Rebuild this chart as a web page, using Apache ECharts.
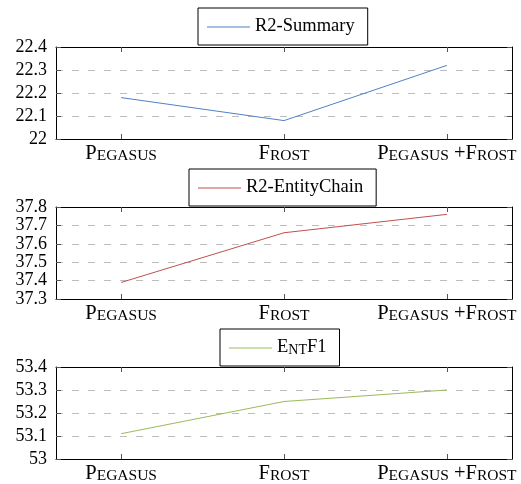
<!DOCTYPE html>
<html>
<head>
<meta charset="utf-8">
<script src="https://cdn.jsdelivr.net/npm/echarts@6/dist/echarts.min.js"></script>
<style>html,body{margin:0;padding:0;background:#fff;}#c{width:521px;height:484px;}</style>
</head>
<body>
<div id="c"></div>
<script>
const categories = ['Pegasus', 'Frost', 'Pegasus +Frost'];
const seriesNames = ['R2-Summary', 'R2-EntityChain', 'EntF1'];
const r2Summary = [22.18, 22.08, 22.32];
const r2EntityChain = [37.39, 37.66, 37.76];
const entF1 = [53.11, 53.25, 53.30];
const yTicks1 = [22.0, 22.1, 22.2, 22.3, 22.4];
const yTicks2 = [37.3, 37.4, 37.5, 37.6, 37.7, 37.8];
const yTicks3 = [53.0, 53.1, 53.2, 53.3, 53.4];
const colors = ['#4f81c7', '#c0504d', '#9bbb59'];

const FONT = 'Liberation Serif';
const allData = [r2Summary, r2EntityChain, entF1];
const allTicks = [yTicks1, yTicks2, yTicks3];

function smallCaps(str) {
  let out = '';
  let cur = '', curType = null;
  for (const ch of str) {
    const t = (ch >= 'a' && ch <= 'z') ? 's' : 'b';
    if (t !== curType && cur) { out += '{' + curType + '|' + cur + '}'; cur = ''; }
    curType = t;
    cur += t === 's' ? ch.toUpperCase() : ch;
  }
  if (cur) out += '{' + curType + '|' + cur + '}';
  return out;
}

const richLabel = {
  b: { fontFamily: FONT, fontSize: 20.5, lineHeight: 20, verticalAlign: 'bottom', color: '#000' },
  s: { fontFamily: FONT, fontSize: 15.5, lineHeight: 17, verticalAlign: 'bottom', color: '#000' }
};
const richLegend = {
  b: { fontFamily: FONT, fontSize: 18.5, lineHeight: 18, verticalAlign: 'bottom', color: '#000' },
  s: { fontFamily: FONT, fontSize: 14, lineHeight: 15, verticalAlign: 'bottom', color: '#000' }
};

const W = 521;
const gridLeft = 56, gridRight = 9;
const xMin = -0.4, xMax = 2.4;
const gridTops = [47, 207, 367];
const gridHeight = 92;
const legendPos = [[198, 8], [189, 169], [220, 329]];
const grids = [], xAxes = [], yAxes = [], series = [], legends = [];
const catIdx = categories.map((c, i) => i);
const tickStyle = { color: '#555', width: 1 };
const lineStyle = { color: '#000', width: 1 };

// inner grid (for category tick marks) aligned to the category positions
const plotW = W - gridLeft - gridRight;
const pxPerUnit = plotW / (xMax - xMin);
const innerLeft = gridLeft + (0 - xMin) * pxPerUnit;
const innerRight = gridRight + (xMax - (catIdx.length - 1)) * pxPerUnit;

gridTops.forEach((top, i) => {
  const gi = i * 2;
  grids.push({ left: gridLeft, right: gridRight, top: top, height: gridHeight, show: false });
  grids.push({ left: innerLeft, right: innerRight, top: top, height: gridHeight, show: false });
  xAxes.push({
    type: 'value', gridIndex: gi, min: xMin, max: xMax, position: 'bottom',
    axisLine: { show: true, onZero: false, lineStyle: lineStyle }, splitLine: { show: false },
    axisTick: { show: false },
    axisLabel: { show: true, customValues: catIdx, interval: 0, margin: 5, fontFamily: FONT, formatter: v => smallCaps(categories[Math.round(v)]), rich: richLabel }
  });
  xAxes.push({
    type: 'value', gridIndex: gi, min: xMin, max: xMax, position: 'top',
    axisLine: { show: true, onZero: false, lineStyle: lineStyle }, splitLine: { show: false },
    axisTick: { show: false },
    axisLabel: { show: false }
  });
  // tick-only axes on the inner grid
  xAxes.push({
    type: 'value', gridIndex: gi + 1, min: 0, max: catIdx.length - 1, interval: 1, position: 'bottom',
    axisLine: { show: false, onZero: false }, splitLine: { show: false },
    axisTick: { show: true, inside: true, length: 5, lineStyle: tickStyle },
    axisLabel: { show: false }
  });
  xAxes.push({
    type: 'value', gridIndex: gi + 1, min: 0, max: catIdx.length - 1, interval: 1, position: 'top',
    axisLine: { show: false, onZero: false }, splitLine: { show: false },
    axisTick: { show: true, inside: true, length: 5, lineStyle: tickStyle },
    axisLabel: { show: false }
  });
  const ticks = allTicks[i];
  const mn = ticks[0], mx = ticks[ticks.length - 1];
  yAxes.push({
    type: 'value', gridIndex: gi, min: mn, max: mx, interval: 0.1, position: 'left',
    axisLine: { show: true, onZero: false, lineStyle: lineStyle },
    axisTick: { show: true, inside: true, length: 5, lineStyle: tickStyle },
    splitLine: { show: true, lineStyle: { color: '#bdbdbd', width: 1, type: [7, 9] } },
    axisLabel: { margin: 9, showMaxLabel: true, showMinLabel: true, hideOverlap: false, fontFamily: FONT, fontSize: 18, lineHeight: 17, color: '#000', formatter: v => String(parseFloat(v.toFixed(1))) }
  });
  yAxes.push({
    type: 'value', gridIndex: gi, min: mn, max: mx, interval: 0.1, position: 'right',
    axisLine: { show: true, onZero: false, lineStyle: lineStyle },
    axisTick: { show: true, inside: true, length: 5, lineStyle: tickStyle },
    splitLine: { show: false },
    axisLabel: { show: false }
  });
  yAxes.push({
    type: 'value', gridIndex: gi + 1, min: mn, max: mx, show: false
  });
  series.push({
    name: seriesNames[i], type: 'line', xAxisIndex: i * 4, yAxisIndex: i * 3,
    data: allData[i].map((v, k) => [k, v]),
    symbol: 'none', showSymbol: false,
    lineStyle: { color: colors[i], width: 1 }, itemStyle: { color: colors[i] }, animation: false
  });
  legends.push({
    data: [seriesNames[i]], left: legendPos[i][0], top: legendPos[i][1],
    orient: 'horizontal', icon: 'rect', itemWidth: 43, itemHeight: 1,
    borderColor: '#000', borderWidth: 1, padding: [9, 13, 9, 9],
    formatter: name => i === 2 ? smallCaps(name) : '{b|' + name + '}',
    textStyle: { rich: richLegend, fontFamily: FONT, fontSize: 18.5, color: '#000' },
    selectedMode: false
  });
});

const chart = echarts.init(document.getElementById('c'), null, { renderer: 'canvas' });
chart.setOption({
  animation: false,
  backgroundColor: '#fff',
  textStyle: { fontFamily: FONT },
  grid: grids, xAxis: xAxes, yAxis: yAxes, series: series, legend: legends
});
</script>
</body>
</html>
